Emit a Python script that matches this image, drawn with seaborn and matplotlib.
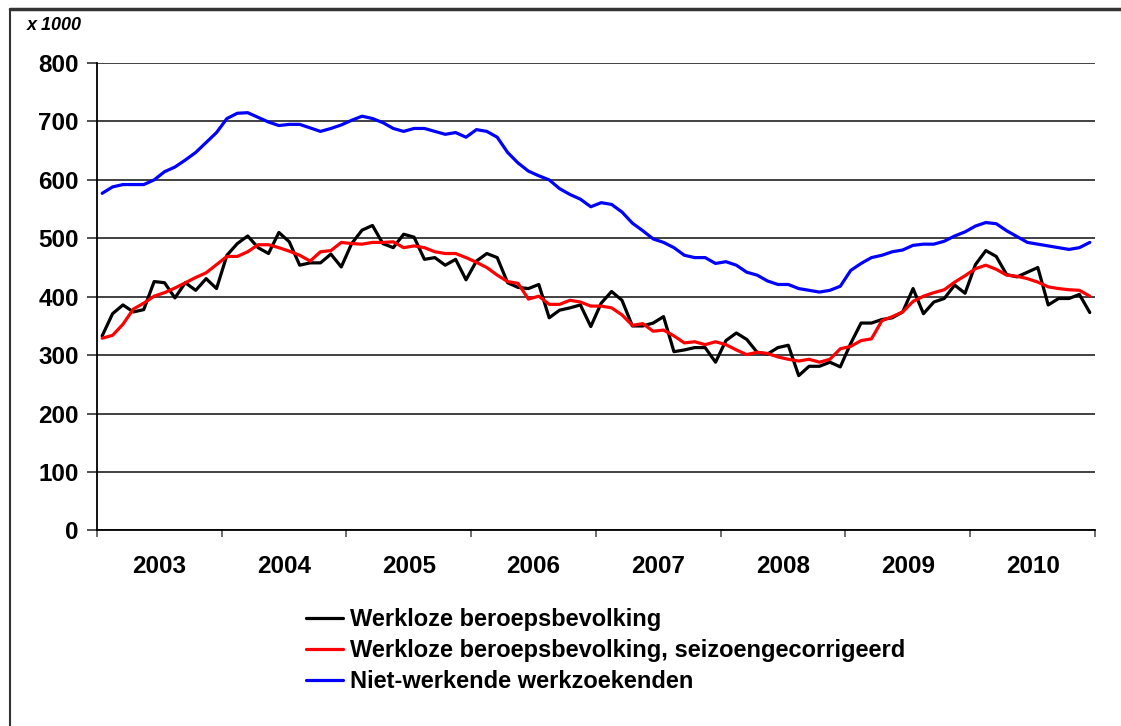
import numpy as np
import pandas as pd
import matplotlib
matplotlib.use("Agg")
import matplotlib.pyplot as plt
from matplotlib.lines import Line2D
import seaborn as sns

# monthly values (x 1000), jan 2003 - dec 2010
werkloos = [333, 371, 386, 374, 378, 426, 424, 398, 424, 411, 431, 414,
            471, 491, 504, 484, 474, 510, 494, 454, 458, 458, 473, 451,
            491, 514, 522, 491, 484, 507, 502, 464, 467, 454, 464, 429,
            461, 474, 467, 424, 416, 414, 421, 364, 377, 381, 386, 349,
            389, 409, 394, 350, 350, 355, 366, 306, 309, 313, 313, 288,
            325, 338, 327, 305, 302, 313, 317, 265, 281, 281, 288, 280,
            320, 355, 355, 361, 364, 374, 414, 371, 391, 397, 420, 406,
            455, 479, 469, 438, 434, 442, 450, 386, 397, 397, 404, 373]

werkloos_sc = [329, 334, 353, 379, 389, 401, 407, 415, 424, 433, 441, 455,
               469, 469, 477, 489, 489, 484, 478, 471, 461, 477, 479, 493,
               491, 490, 493, 493, 494, 484, 487, 484, 477, 474, 474, 467,
               459, 450, 437, 426, 423, 396, 401, 387, 387, 394, 391, 384,
               384, 381, 369, 351, 354, 341, 343, 333, 321, 323, 318, 323,
               318, 309, 301, 305, 303, 297, 293, 290, 293, 288, 293, 311,
               315, 325, 328, 359, 366, 374, 392, 401, 407, 412, 425, 436,
               448, 454, 447, 437, 435, 431, 425, 417, 414, 412, 411, 401]

nww = [577, 588, 592, 592, 592, 600, 614, 622, 634, 647, 664, 681,
       705, 714, 715, 707, 699, 693, 695, 695, 689, 683, 688, 694,
       702, 709, 705, 698, 688, 683, 688, 688, 683, 678, 681, 673,
       686, 683, 673, 647, 629, 615, 607, 600, 585, 575, 567, 554,
       561, 558, 545, 526, 513, 499, 493, 484, 471, 467, 467, 457,
       460, 454, 442, 437, 427, 421, 421, 414, 411, 408, 411, 418,
       445, 457, 467, 471, 477, 480, 488, 490, 490, 495, 504, 511,
       521, 527, 525, 513, 503, 493, 490, 487, 484, 481, 484, 493]

years = ["2003", "2004", "2005", "2006", "2007", "2008", "2009", "2010"]
labels = ["Werkloze beroepsbevolking",
          "Werkloze beroepsbevolking, seizoengecorrigeerd",
          "Niet-werkende werkzoekenden"]
colors = ["black", "red", "blue"]

df = pd.DataFrame({"maand": np.arange(len(werkloos)) + 0.5,
                   labels[0]: werkloos, labels[1]: werkloos_sc, labels[2]: nww})

sns.set_style("white")
plt.rcParams["font.family"] = ["Liberation Sans", "DejaVu Sans"]
plt.rcParams["font.weight"] = "bold"
plt.rcParams["text.color"] = "black"
plt.rcParams["xtick.color"] = "black"
plt.rcParams["ytick.color"] = "black"

fig = plt.figure(figsize=(11.21, 7.26), dpi=100)
ax = fig.add_axes([0.0865, 0.2693, 0.8903, 0.6439])

for lab, col in zip(labels, colors):
    sns.lineplot(data=df, x="maand", y=lab, color=col, linewidth=2.3, ax=ax, label=lab, legend=False)

ax.set_xlim(0, 12 * len(years))
ax.set_ylim(0, 800)
ax.set_yticks(range(0, 801, 100))
ax.yaxis.grid(True, color="#333333", linewidth=1.3)
ax.set_axisbelow(True)
for s in ["top", "right"]:
    ax.spines[s].set_visible(False)
for s in ["left", "bottom"]:
    ax.spines[s].set_color("black")
    ax.spines[s].set_linewidth(1.3)

ax.set_xticks(np.arange(0, 12 * len(years) + 1, 12))
ax.set_xticklabels([])
ax.set_xticks(np.arange(6, 12 * len(years), 12), minor=True)
ax.set_xticklabels(years, minor=True, fontsize=17.5, fontweight="bold", color="black")
ax.tick_params(axis="x", which="major", direction="out", length=5, width=1.2, color="#555555", bottom=True)
ax.tick_params(axis="x", which="minor", length=0, pad=18)
ax.tick_params(axis="y", direction="out", length=7, width=1.2, color="#333333", left=True, pad=6)
for t in ax.get_yticklabels():
    t.set_fontsize(17.5)
    t.set_fontweight("bold")
    t.set_color("black")
ax.set_xlabel("")
ax.set_ylabel("")

fig.text(27 / 1121, 1 - 25 / 726, "x 1000", fontsize=13, fontstyle="italic",
         fontweight="bold", va="center", ha="left", color="black")

handles = [Line2D([], [], color=c, linewidth=2.3) for c in colors]
leg = fig.legend(handles, labels, loc="upper left", bbox_to_anchor=(306 / 1121, 1 - 608 / 726),
                 frameon=False, handlelength=1.55, handletextpad=0.3,
                 labelspacing=0.34, borderpad=0, borderaxespad=0,
                 prop={"weight": "bold", "size": 17})
for t in leg.get_texts():
    t.set_color("black")

# frame around chart (cropped: only left and top visible)
fig.add_artist(Line2D([10 / 1121, 10 / 1121], [0, 1 - 9 / 726], color="#333333", linewidth=1.5))
fig.add_artist(Line2D([10 / 1121, 1], [1 - 9 / 726, 1 - 9 / 726], color="#333333", linewidth=2.5))

fig.savefig("out.png", dpi=100)
